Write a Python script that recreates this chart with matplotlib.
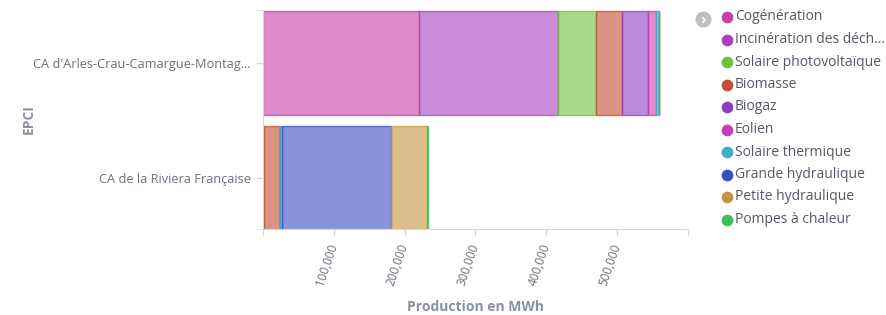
import matplotlib
matplotlib.use('Agg')
import matplotlib.pyplot as plt
from matplotlib.ticker import FuncFormatter
from matplotlib.colors import to_rgba

plt.rcParams['font.family'] = ['Open Sans', 'DejaVu Sans']

# categories (top to bottom)
epci = ["CA d'Arles-Crau-Camargue-Montag...", "CA de la Riviera Française"]

# production en MWh per filière, one value per EPCI
cogeneration = [220000, 0]
incineration = [197000, 0]
solaire_pv = [53000, 1000]
biomasse = [37000, 23500]
biogaz = [36000, 0]
eolien = [12500, 0]
solaire_thermique = [4000, 2000]
grande_hydraulique = [0, 154000]
petite_hydraulique = [0, 51500]
pompes_chaleur = [0, 1500]

series_names = ["Cogénération", "Incinération des déch...", "Solaire photovoltaïque",
                "Biomasse", "Biogaz", "Eolien", "Solaire thermique",
                "Grande hydraulique", "Petite hydraulique", "Pompes à chaleur"]
series_values = [cogeneration, incineration, solaire_pv, biomasse, biogaz, eolien,
                 solaire_thermique, grande_hydraulique, petite_hydraulique, pompes_chaleur]
colors = ["#C640A6", "#A93FC6", "#6CC13E", "#C64B33", "#8E3EC4", "#C73EB4",
          "#3CB0C4", "#3B4BC1", "#C29540", "#3CC05A"]

x_ticks = [0, 100000, 200000, 300000, 400000, 500000, 600000]

label_col = '#69707d'
title_col = '#8a929e'
axis_col = '#d3dae6'

fig = plt.figure(figsize=(8.87, 3.15), dpi=100)
ax = fig.add_axes([0.2965, 0.273, 0.479, 0.695])

ypos = list(range(len(epci)))
left = [0] * len(epci)
for name, vals, c in zip(series_names, series_values, colors):
    ax.barh(ypos, vals, left=left, height=0.905,
            facecolor=to_rgba(c, 0.6), edgecolor=to_rgba(c, 0.75), linewidth=1)
    left = [l + v for l, v in zip(left, vals)]

y_lo, y_hi = -0.457, 1.448
ax.set_ylim(y_hi, y_lo)
ax.set_xlim(x_ticks[0], x_ticks[-1])
ax.set_yticks(ypos)
ax.set_yticklabels(epci, fontsize=9.2, color=label_col)
ax.set_xticks(x_ticks)
ax.xaxis.set_major_formatter(FuncFormatter(
    lambda v, p: '' if v in (x_ticks[0], x_ticks[-1]) else f'{int(v):,}'))
for t in ax.get_xticklabels():
    t.set_rotation(71)
    t.set_ha('right')
    t.set_va('center')
    t.set_rotation_mode('anchor')
    t.set_fontsize(8.4)
    t.set_color(label_col)

for s in ['top', 'right']:
    ax.spines[s].set_visible(False)
for s in ['left', 'bottom']:
    ax.spines[s].set_color(axis_col)
ax.tick_params(axis='both', colors=axis_col, length=5, width=1)
ax.tick_params(axis='x', labelcolor=label_col, pad=6)
ax.tick_params(axis='y', labelcolor=label_col, pad=4)
# tick marks at the ends of the y axis like the original
ax.set_yticks([y_lo, y_hi], minor=True)
ax.tick_params(axis='y', which='minor', length=5, color=axis_col)

ax.set_ylabel('EPCI', fontsize=10, fontweight='bold', color=title_col)
ax.yaxis.set_label_coords(-0.536, 0.5)
ax.set_xlabel('Production en MWh', fontsize=10, fontweight='bold', color=title_col)
ax.xaxis.set_label_coords(0.5, -0.325)

# legend
lax = fig.add_axes([0.77, 0.0, 0.23, 1.0])
lax.set_xlim(0, 204)
lax.set_ylim(315, 0)
lax.axis('off')
lax.scatter([703 - 683], [19], s=110, color='#bfbfbf')
lax.text(703 - 683, 19.5, '›', ha='center', va='center', color='white',
         fontsize=11, fontweight='bold')
for i, (name, c) in enumerate(zip(series_names, colors)):
    y = 17 + i * 22.5
    lax.scatter([727 - 683], [y], s=55, color=c)
    lax.text(735 - 683, y, name, va='center', ha='left', fontsize=10, color='#535966')

fig.savefig('out.png', dpi=100)
